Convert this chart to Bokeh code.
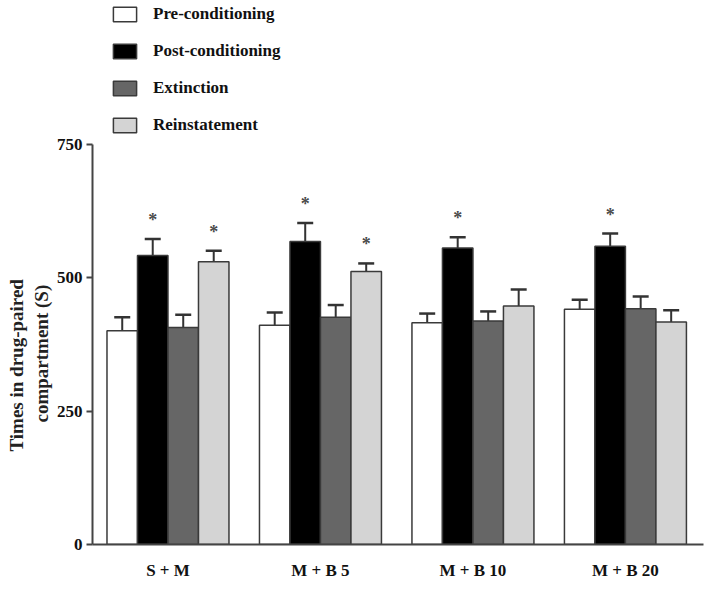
from bokeh.plotting import figure
from bokeh.models import (ColumnDataSource, Range1d, FixedTicker, Legend, LegendItem,
                          Whisker, TeeHead, Title)
from bokeh.embed import file_html
from bokeh.resources import INLINE
from bokeh.core.properties import value

# ---- data ----
groups = ["S + M", "M + B 5", "M + B 10", "M + B 20"]
series = ["Pre-conditioning", "Post-conditioning", "Extinction", "Reinstatement"]
pre = [401, 411, 416, 441]
pre_err = [25, 24, 17, 18]
post = [542, 568, 556, 559]
post_err = [31, 35, 20, 24]
ext = [407, 426, 419, 442]
ext_err = [24, 23, 18, 23]
rein = [530, 512, 447, 417]
rein_err = [21, 15, 31, 22]
sig_post = [True, True, True, True]
sig_rein = [True, True, False, False]
y_ticks = [0, 250, 500, 750]
y_max = 750
y_title = ["Times in drug-paired", "compartment (S)"]

FONT = "Liberation Serif"
fills = ["#ffffff", "#000000", "#666666", "#d4d4d4"]
offsets = [-0.3, -0.1, 0.1, 0.3]
bar_w = 0.2

# frame extends above the axis top so the legend can sit there
p = figure(frame_width=611, frame_height=544, output_backend="svg", toolbar_location=None,
           x_range=Range1d(0.505, 4.512), y_range=Range1d(0, y_max * 544 / 400),
           min_border_left=92, min_border_right=5, min_border_top=0,
           min_border_bottom=40)
p.outline_line_color = None
p.xgrid.visible = False
p.ygrid.visible = False

means = [pre, post, ext, rein]
errs = [pre_err, post_err, ext_err, rein_err]
sigs = [None, sig_post, None, sig_rein]
renderers = []
for i in range(4):
    xs = [g + 1 + offsets[i] for g in range(len(groups))]
    tops = [m + e for m, e in zip(means[i], errs[i])]
    src = ColumnDataSource(dict(x=xs, top=means[i], upper=tops))
    r = p.vbar(x="x", top="top", width=bar_w, bottom=0, source=src,
               fill_color=fills[i], line_color="#3a3a3a", line_width=1.5)
    renderers.append(r)
    w = Whisker(base="x", upper="upper", lower="top", source=src,
                dimension="height", line_color="#333333", line_width=2,
                upper_head=TeeHead(size=16, line_color="#333333", line_width=2.5),
                lower_head=None)
    p.add_layout(w)
    if sigs[i] is not None:
        sx = [x for x, s in zip(xs, sigs[i]) if s]
        sy = [t for t, s in zip(tops, sigs[i]) if s]
        p.text(x=sx, y=sy, text=["*"] * len(sx), text_align="center",
               text_baseline="alphabetic", y_offset=-19,
               text_font=value(FONT), text_font_style="bold",
               text_font_size="18px", text_color="#4a4a4a")

# axes
p.xaxis.ticker = FixedTicker(ticks=[1, 2, 3, 4])
p.xaxis.major_label_overrides = {i + 1: g for i, g in enumerate(groups)}
p.xaxis.major_tick_out = 0
p.xaxis.major_tick_in = 0
p.xaxis.minor_tick_out = 0
p.xaxis.minor_tick_in = 0
p.xaxis.major_label_standoff = 16
p.xaxis.axis_line_color = "#444444"
p.xaxis.axis_line_width = 2

p.yaxis.ticker = FixedTicker(ticks=y_ticks)
p.yaxis.bounds = (0, y_max)
p.yaxis.major_tick_out = 6
p.yaxis.major_tick_in = 0
p.yaxis.minor_tick_out = 0
p.yaxis.minor_tick_in = 0
p.yaxis.major_label_standoff = 4
p.yaxis.axis_line_color = "#444444"
p.yaxis.axis_line_width = 2
p.yaxis.major_tick_line_color = "#444444"
p.yaxis.major_tick_line_width = 2

for ax in (p.xaxis, p.yaxis):
    ax.major_label_text_font = FONT
    ax.major_label_text_font_style = "bold"
    ax.major_label_text_font_size = "17px"
    ax.major_label_text_color = "#111111"

# y-axis title: two rotated lines on the left, centred on the 0-750 axis span
for line, off, so in ((y_title[1], 122, 4), (y_title[0], 93, 0)):
    p.add_layout(Title(text=line, align="left", offset=off, standoff=so,
                       text_font=FONT, text_font_style="bold",
                       text_font_size="19px", text_color="#222222"), "left")

legend = Legend(items=[LegendItem(label=s, renderers=[r]) for s, r in zip(series, renderers)],
                location=(18, 409), orientation="vertical",
                glyph_width=29, glyph_height=18, label_height=20,
                spacing=17, padding=0, margin=0, label_standoff=14,
                border_line_color=None, background_fill_alpha=0,
                label_text_font=FONT, label_text_font_style="bold",
                label_text_font_size="17px", label_text_color="#111111")
p.add_layout(legend, "center")

open("out.html", "w").write(file_html(p, INLINE))
